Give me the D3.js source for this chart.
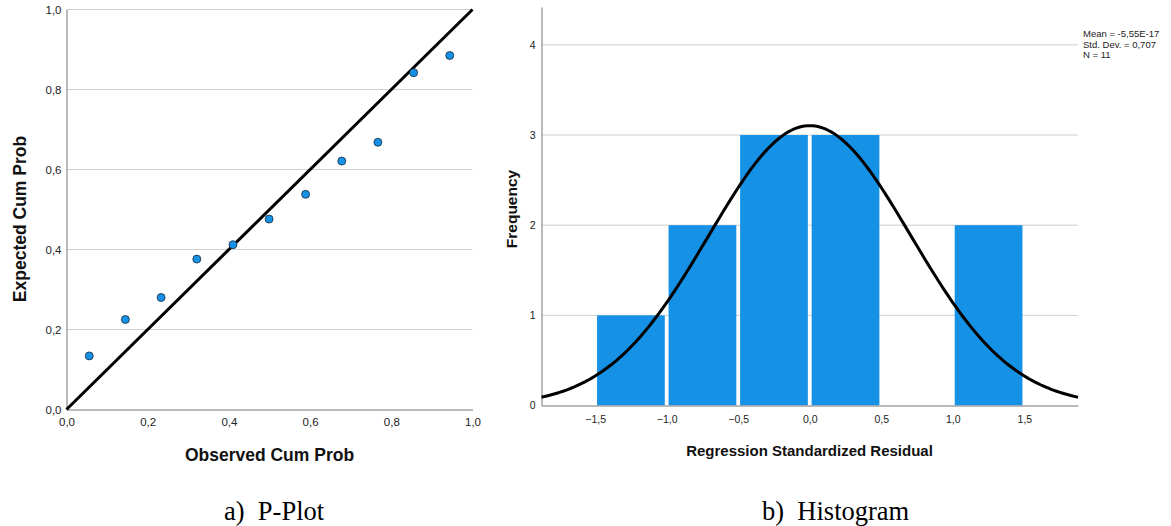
<!DOCTYPE html>
<html>
<head>
<meta charset="utf-8">
<script src="https://cdn.jsdelivr.net/npm/d3@7"></script>
<style>
  body { margin: 0; background: #fff; }
  svg { display: block; }
  .tick text { font-family: "Liberation Sans", Arial, sans-serif; fill: #222; }
  .axis-title { font-family: "Liberation Sans", Arial, sans-serif; font-weight: bold; fill: #111; }
  .caption { font-family: "Liberation Serif", "Times New Roman", serif; font-size: 26.5px; fill: #000; }
</style>
</head>
<body>
<svg id="chart" width="1171" height="526"></svg>
<script>
// P-Plot values
var observed_cum = [0.056, 0.145, 0.233, 0.321, 0.410, 0.499, 0.589, 0.678, 0.767, 0.855, 0.944];
var expected_cum = [0.134, 0.225, 0.280, 0.376, 0.412, 0.476, 0.538, 0.621, 0.668, 0.842, 0.885];
var pp_ticks = [0, 0.2, 0.4, 0.6, 0.8, 1.0];

// Histogram values
var bin_starts = [-1.5, -1.0, -0.5, 0.0, 0.5, 1.0];
var bin_counts = [1, 2, 3, 3, 0, 2];
var bin_width = 0.5;
var hist_x_ticks = [-1.5, -1.0, -0.5, 0.0, 0.5, 1.0, 1.5];
var hist_y_ticks = [0, 1, 2, 3, 4];
var stats_lines = ['Mean = -5,55E-17', 'Std. Dev. = 0,707', 'N = 11'];
var fit_mean = 0;
var fit_sd = 0.707;
var fit_n = 11;

var svg = d3.select('#chart');
var locale = d3.formatLocale({decimal: ',', thousands: '.', grouping: [3], currency: ['', '']});
var fmt1 = locale.format('.1f');

var axis_color = '#a3a3a3';
var grid_color = '#cfcfcf';
var blue = '#1591e6';

// =========
// P-Plot
// =========

function draw_pplot(){
    var left = 66.5, right = 472.5, top = 9.5, bottom = 409.5;
    var x = d3.scaleLinear().domain([0, 1]).range([left, right]);
    var y = d3.scaleLinear().domain([0, 1]).range([bottom, top]);
    var g = svg.append('g');

    g.selectAll('.grid')
	.data(pp_ticks.slice(1))
	.enter()
	.append('line')
	.attr('x1', left).attr('x2', right)
	.attr('y1', function(d){return y(d)}).attr('y2', function(d){return y(d)})
	.attr('stroke', grid_color).attr('stroke-width', 1);

    var xa = g.append('g')
	.attr('transform', 'translate(0,' + bottom + ')')
	.call(d3.axisBottom(x).tickValues(pp_ticks).tickFormat(fmt1).tickSize(0).tickPadding(8));
    xa.select('.domain').attr('stroke', axis_color).attr('stroke-width', 1.5);
    xa.selectAll('.tick text').style('font-size', '11.5px');

    var ya = g.append('g')
	.attr('transform', 'translate(' + left + ',0)')
	.call(d3.axisLeft(y).tickValues(pp_ticks).tickFormat(fmt1).tickSize(0).tickPadding(5));
    ya.select('.domain').attr('stroke', axis_color).attr('stroke-width', 1.5);
    ya.selectAll('.tick text').style('font-size', '11.5px');

    g.append('line')
	.attr('x1', x(0)).attr('y1', y(0))
	.attr('x2', x(1)).attr('y2', y(1))
	.attr('stroke', '#000').attr('stroke-width', 3);

    g.selectAll('.pt')
	.data(observed_cum)
	.enter()
	.append('circle')
	.attr('cx', function(d){return x(d)})
	.attr('cy', function(d, i){return y(expected_cum[i])})
	.attr('r', 4)
	.attr('fill', blue)
	.attr('stroke', '#1b2a3a').attr('stroke-width', 0.8);

    g.append('text').attr('class', 'axis-title')
	.attr('x', 269.5).attr('y', 461)
	.attr('text-anchor', 'middle').style('font-size', '17.5px')
	.text('Observed Cum Prob');

    g.append('text').attr('class', 'axis-title')
	.attr('transform', 'translate(26,' + 219 + ') rotate(-90)')
	.attr('text-anchor', 'middle').style('font-size', '17.5px')
	.text('Expected Cum Prob');

    g.append('text').attr('class', 'caption')
	.attr('x', 224).attr('y', 520)
	.text('a)\u00a0\u00a0P-Plot');
}

// =========
// Histogram
// =========

function draw_histogram(){
    var left = 541.5, right = 1078, top = 7, bottom = 405.5;
    var x = d3.scaleLinear().domain([-1.875, 1.875]).range([left, right]);
    var y = d3.scaleLinear().domain([0, 4.42]).range([bottom, top]);
    var g = svg.append('g');

    g.selectAll('.grid')
	.data(hist_y_ticks.slice(1))
	.enter()
	.append('line')
	.attr('x1', left).attr('x2', right)
	.attr('y1', function(d){return y(d)}).attr('y2', function(d){return y(d)})
	.attr('stroke', grid_color).attr('stroke-width', 1);

    g.selectAll('.bar')
	.data(bin_starts)
	.enter()
	.append('rect')
	.attr('x', function(d){return x(d) + 1.9})
	.attr('width', function(d){return x(d + bin_width) - x(d) - 3.8})
	.attr('y', function(d, i){return y(bin_counts[i])})
	.attr('height', function(d, i){return bottom - y(bin_counts[i])})
	.attr('fill', blue);

    var xa = g.append('g')
	.attr('transform', 'translate(0,' + bottom + ')')
	.call(d3.axisBottom(x).tickValues(hist_x_ticks).tickFormat(fmt1).tickSize(0).tickPadding(10));
    xa.select('.domain').attr('stroke', axis_color).attr('stroke-width', 1.5);
    xa.selectAll('.tick text').style('font-size', '10.5px');

    var ya = g.append('g')
	.attr('transform', 'translate(' + left + ',0)')
	.call(d3.axisLeft(y).tickValues(hist_y_ticks).tickFormat(d3.format('d')).tickSize(0).tickPadding(6));
    ya.select('.domain').attr('stroke', axis_color).attr('stroke-width', 1.5);
    ya.selectAll('.tick text').style('font-size', '10.5px');

    // normal curve from the shown mean, std. dev. and N
    var peak = fit_n * bin_width / (fit_sd * Math.sqrt(2 * Math.PI));
    var xs = d3.range(0, 201).map(function(i){return -1.875 + i * 3.75 / 200});
    var line = d3.line()
	.x(function(d){return x(d)})
	.y(function(d){
	    var z = (d - fit_mean) / fit_sd;
	    return y(peak * Math.exp(-0.5 * z * z));
	});
    g.append('path')
	.datum(xs)
	.attr('d', line)
	.attr('fill', 'none')
	.attr('stroke', '#000').attr('stroke-width', 3);

    g.selectAll('.stat')
	.data(stats_lines)
	.enter()
	.append('text')
	.attr('x', 1083)
	.attr('y', function(d, i){return 37 + i * 10.7})
	.style('font-family', '"Liberation Sans", Arial, sans-serif')
	.style('font-size', '9.5px')
	.attr('fill', '#222')
	.text(function(d){return d});

    g.append('text').attr('class', 'axis-title')
	.attr('x', 809.5).attr('y', 456)
	.attr('text-anchor', 'middle').style('font-size', '15px')
	.text('Regression Standardized Residual');

    g.append('text').attr('class', 'axis-title')
	.attr('transform', 'translate(517,' + 209 + ') rotate(-90)')
	.attr('text-anchor', 'middle').style('font-size', '15.5px')
	.text('Frequency');

    g.append('text').attr('class', 'caption')
	.attr('x', 762).attr('y', 520)
	.text('b)\u00a0\u00a0Histogram');
}

draw_pplot();
draw_histogram();
</script>
</body>
</html>
